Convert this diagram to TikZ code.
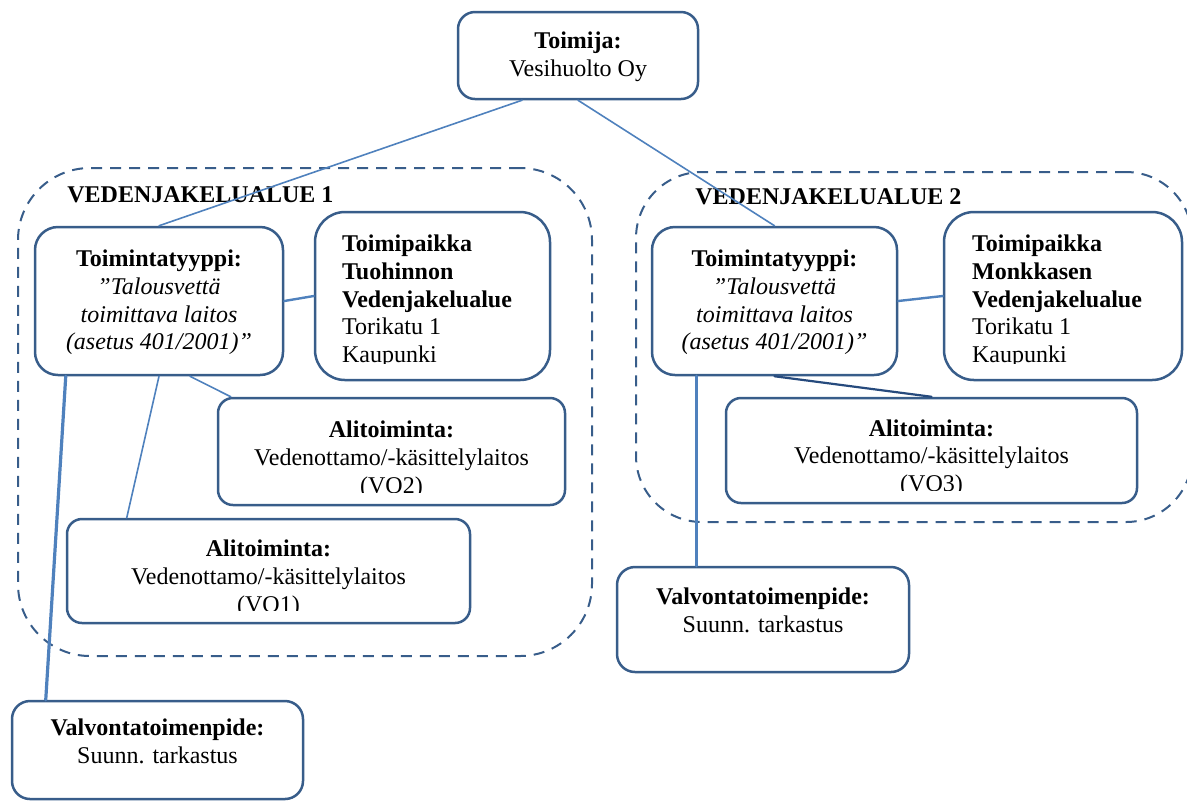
\documentclass[tikz,border=0pt]{standalone}
\usepackage{fontspec}
\setmainfont{Liberation Serif}
\definecolor{boxblue}{RGB}{56,93,138}
\definecolor{linkblue}{RGB}{79,129,189}
\definecolor{darklink}{RGB}{38,74,125}
\begin{document}
\begin{tikzpicture}[x=0.5pt,y=-0.5pt,line join=round,line cap=round,
	font=\fontsize{12}{13.8}\selectfont,
	box/.style={draw=boxblue,line width=1.25pt,rounded corners=#1,inner sep=0pt},
	box/.default=8pt,
	boxtext/.style={anchor=north,align=center,inner sep=0pt},
	placetext/.style={anchor=north west,align=left,inner sep=0pt},
	area/.style={draw=boxblue,line width=1pt,line cap=butt,dash pattern=on 5.5pt off 4pt,rounded corners=#1,inner sep=0pt},
	area/.default=36pt,
	arealabel/.style={anchor=base west,inner sep=0pt,font=\fontsize{12}{13.8}\selectfont\bfseries},
	link/.style={draw=linkblue,line width=0.8pt},
	thicklink/.style={draw=linkblue,line width=1.6pt}]
	\useasboundingbox (0,0) rectangle (1187,800);
	% distribution areas
	\node[area, minimum width=287pt, minimum height=244pt] (area1) at (305,412) {};
	\node[area=33pt, minimum width=278pt, minimum height=175pt] (area2) at (914,347) {};
	\node[arealabel] (area1lbl) at (67,202) {VEDENJAKELUALUE 1};
	\node[arealabel] (area2lbl) at (695,204) {VEDENJAKELUALUE 2};
	% operator
	\node[box=8.5pt, minimum width=120pt, minimum height=43.5pt] (toimija) at (578,55.5) {};
	\node[boxtext] (toimijatxt) at ([yshift=-10.5pt]toimija.north) {\textbf{Toimija:}\\Vesihuolto Oy};
	% area 1
	\node[box=11.5pt, minimum width=124pt, minimum height=74pt] (tt1) at (159,301) {};
	\node[boxtext] (tt1txt) at ([yshift=-12pt]tt1.north)
		{\textbf{Toimintatyyppi:}\\\textit{”Talousvettä}\\\textit{toimittava laitos}\\\textit{(asetus 401/2001)”}};
	\node[box=15pt, minimum width=117.5pt, minimum height=84pt] (tp1) at (432.5,296) {};
	\begin{scope}
		\clip (tp1.north west) rectangle ([yshift=9pt]tp1.south east);
		\node[placetext] (tp1txt) at ([xshift=14pt,yshift=-12pt]tp1.north west)
			{\textbf{Toimipaikka}\\\textbf{Tuohinnon}\\\textbf{Vedenjakelualue}\\Torikatu 1\\Kaupunki};
	\end{scope}
	\node[box=7.5pt, minimum width=173.5pt, minimum height=53.5pt] (vo2) at (391.5,451.5) {};
	\begin{scope}
		\clip (vo2.north west) rectangle ([yshift=7pt]vo2.south east);
		\node[boxtext] (vo2txt) at ([yshift=-12pt]vo2.north) {\textbf{Alitoiminta:}\\Vedenottamo/-käsittelylaitos\\(VO2)};
	\end{scope}
	\node[box=7.5pt, minimum width=201.5pt, minimum height=52pt] (vo1) at (268.5,571) {};
	\begin{scope}
		\clip (vo1.north west) rectangle ([yshift=7pt]vo1.south east);
		\node[boxtext] (vo1txt) at ([yshift=-11pt]vo1.north) {\textbf{Alitoiminta:}\\Vedenottamo/-käsittelylaitos\\(VO1)};
	\end{scope}
	\node[box=9pt, minimum width=145.5pt, minimum height=49pt] (val1) at (157.5,750) {};
	\node[boxtext] (val1txt) at ([yshift=-9.5pt]val1.north) {\textbf{Valvontatoimenpide:}\\Suunn. tarkastus};
	% area 2
	\node[box=11.5pt, minimum width=122.5pt, minimum height=74pt] (tt2) at (774.5,301) {};
	\node[boxtext] (tt2txt) at ([yshift=-12pt]tt2.north)
		{\textbf{Toimintatyyppi:}\\\textit{”Talousvettä}\\\textit{toimittava laitos}\\\textit{(asetus 401/2001)”}};
	\node[box=15pt, minimum width=119pt, minimum height=84pt] (tp2) at (1063,296) {};
	\begin{scope}
		\clip (tp2.north west) rectangle ([yshift=9pt]tp2.south east);
		\node[placetext] (tp2txt) at ([xshift=14.5pt,yshift=-12pt]tp2.north west)
			{\textbf{Toimipaikka}\\\textbf{Monkkasen}\\\textbf{Vedenjakelualue}\\Torikatu 1\\Kaupunki};
	\end{scope}
	\node[box=7.5pt, minimum width=205.5pt, minimum height=52.5pt] (vo3) at (931.5,450.5) {};
	\begin{scope}
		\clip (vo3.north west) rectangle ([yshift=7pt]vo3.south east);
		\node[boxtext] (vo3txt) at ([yshift=-11.2pt]vo3.north) {\textbf{Alitoiminta:}\\Vedenottamo/-käsittelylaitos\\(VO3)};
	\end{scope}
	\node[box=9pt, minimum width=146pt, minimum height=52.5pt] (val2) at (763,619.5) {};
	\node[boxtext] (val2txt) at ([yshift=-11pt]val2.north) {\textbf{Valvontatoimenpide:}\\Suunn. tarkastus};
	% connectors
	\draw[link] ([xshift=-28pt]toimija.south) -- (tt1.north);
	\draw[link] (toimija.south) -- (tt2.north);
	\draw[link, line width=1.2pt] (tt1.east) -- (tp1.west);
	\draw[link, line width=1.2pt] (tt2.east) -- (tp2.west);
	\draw[link] ([xshift=15.5pt]tt1.south) -- ([xshift=7pt]vo2.north west);
	\draw[link] (tt1.south) -- ([xshift=30.5pt]vo1.north west);
	\draw[thicklink] ([xshift=16pt]tt1.south west) -- ([xshift=17.5pt]val1.north west);
	\draw[draw=darklink, line width=1.1pt] (tt2.south) -- (vo3.north);
	\draw[thicklink] ([xshift=23pt]tt2.south west) -- ([xshift=40.5pt]val2.north west);
\end{tikzpicture}
\end{document}
